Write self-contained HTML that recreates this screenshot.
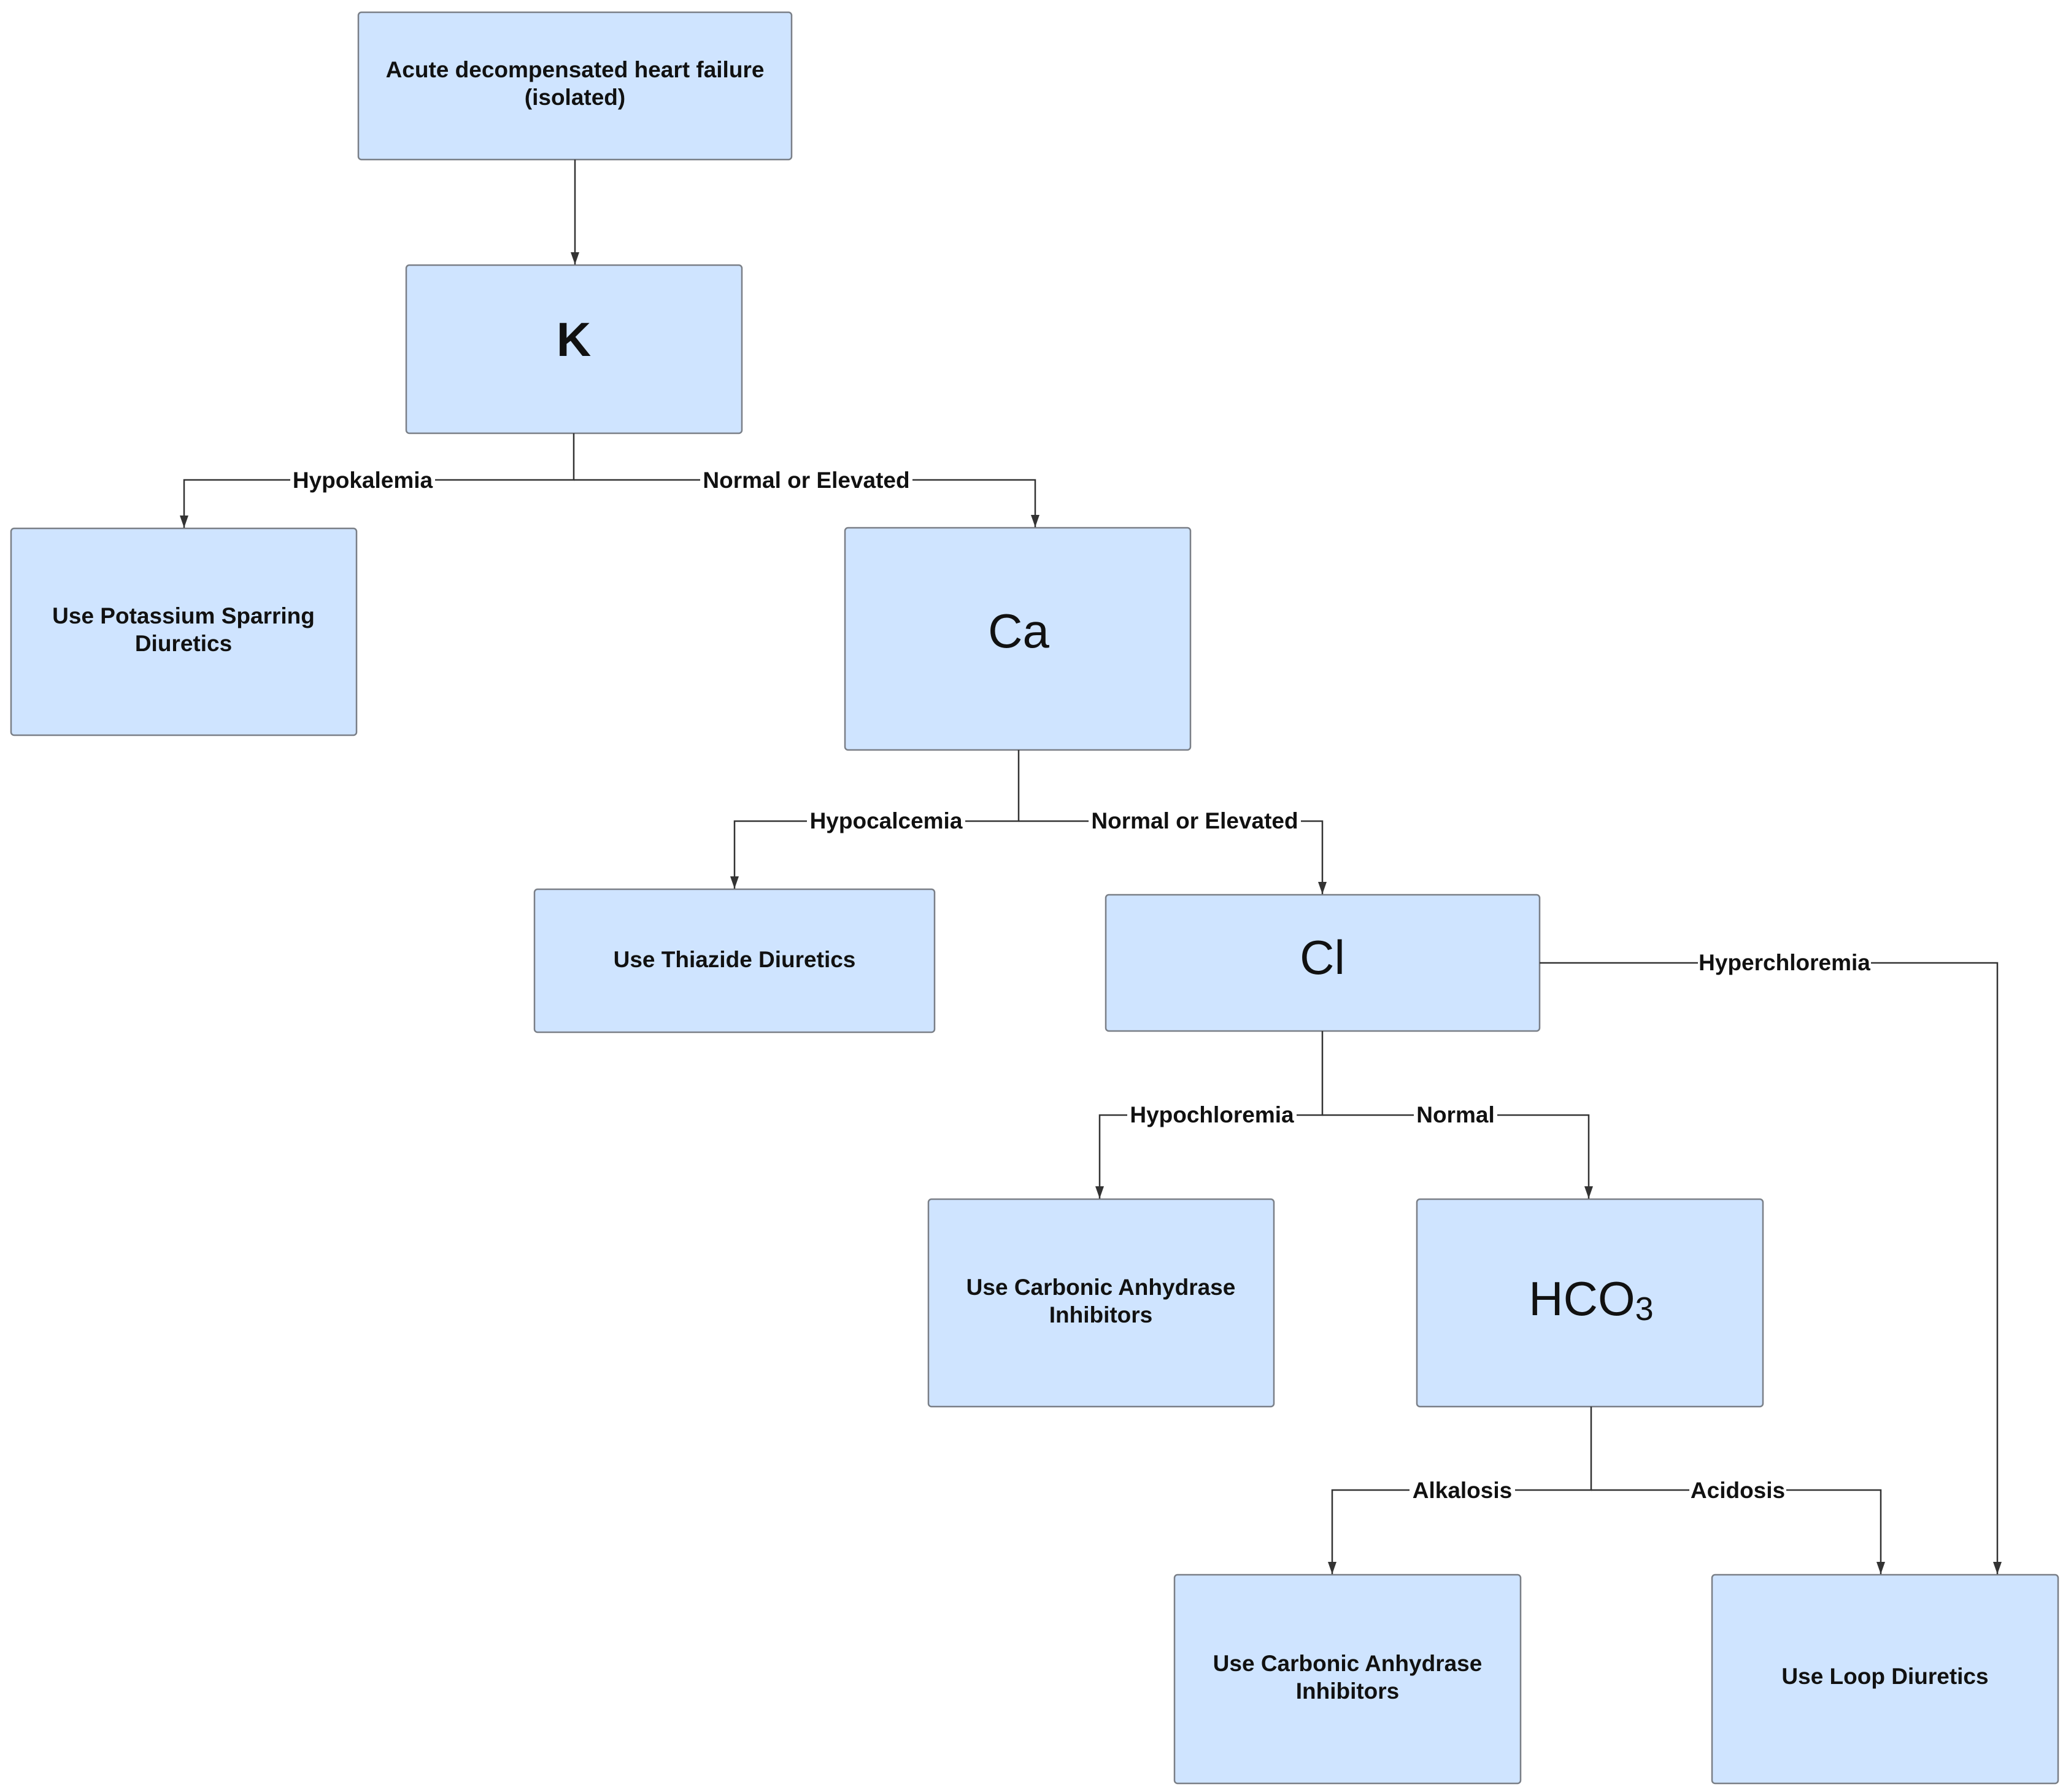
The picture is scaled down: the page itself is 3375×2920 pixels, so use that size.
<!DOCTYPE html>
<html><head><meta charset="utf-8"><style>
html,body{margin:0;padding:0;background:#fff;}
svg{display:block;}
text{font-family:"Liberation Sans",Arial,sans-serif;}
.b{fill:#cfe4ff;stroke:#7a7f87;stroke-width:2.5;}
.t{font-weight:bold;font-size:37px;fill:#111;}
.big{font-size:78px;fill:#111;}
.l{fill:none;stroke:#333;stroke-width:2.5;}
.lab{font-weight:bold;font-size:37px;fill:#111;}
</style></head><body>
<svg width="3375" height="2920" viewBox="0 0 3375 2920" xmlns="http://www.w3.org/2000/svg">
<defs>
<marker id="d" markerWidth="14" markerHeight="20" refX="7" refY="20" markerUnits="userSpaceOnUse"><path d="M0,0 L14,0 L7,20 z" fill="#333"/></marker></defs>
<g transform="translate(-3,-2)">
<!-- boxes -->
<rect class="b" x="587" y="22" width="706" height="240" rx="5"/>
<text class="t" x="940" y="128" text-anchor="middle">Acute decompensated heart failure</text>
<text class="t" x="940" y="173" text-anchor="middle">(isolated)</text>

<rect class="b" x="665" y="434" width="547" height="274" rx="5"/>
<text class="t" x="938" y="582" text-anchor="middle" style="font-size:78px">K</text>

<rect class="b" x="21" y="863" width="563" height="337" rx="5"/>
<text class="t" x="302" y="1018" text-anchor="middle">Use Potassium Sparring</text>
<text class="t" x="302" y="1063" text-anchor="middle">Diuretics</text>

<rect class="b" x="1380" y="862" width="563" height="362" rx="5"/>
<text class="big" x="1663" y="1057" text-anchor="middle">Ca</text>

<rect class="b" x="874" y="1451" width="652" height="233" rx="5"/>
<text class="t" x="1200" y="1578" text-anchor="middle">Use Thiazide Diuretics</text>

<rect class="b" x="1805" y="1460" width="707" height="222" rx="5"/>
<text class="big" x="2158" y="1589" text-anchor="middle">Cl</text>

<rect class="b" x="1516" y="1956" width="563" height="338" rx="5"/>
<text class="t" x="1797" y="2112" text-anchor="middle">Use Carbonic Anhydrase</text>
<text class="t" x="1797" y="2157" text-anchor="middle">Inhibitors</text>

<rect class="b" x="2312" y="1956" width="564" height="338" rx="5"/>
<text class="big" x="2596" y="2145" text-anchor="middle">HCO<tspan font-size="54" dy="8">3</tspan></text>

<rect class="b" x="1917" y="2568" width="564" height="340" rx="5"/>
<text class="t" x="2199" y="2725" text-anchor="middle">Use Carbonic Anhydrase</text>
<text class="t" x="2199" y="2770" text-anchor="middle">Inhibitors</text>

<rect class="b" x="2793" y="2568" width="564" height="340" rx="5"/>
<text class="t" x="3075" y="2746" text-anchor="middle">Use Loop Diuretics</text>

<!-- connectors -->
<path class="l" d="M940,262 V433" marker-end="url(#d)"/>
<path class="l" d="M938,708 V784 H303 V862" marker-end="url(#d)"/>
<path class="l" d="M938,784 H1690 V861" marker-end="url(#d)"/>
<path class="l" d="M1663,1224 V1340 H1200 V1450" marker-end="url(#d)"/>
<path class="l" d="M1663,1340 H2158 V1459" marker-end="url(#d)"/>
<path class="l" d="M2158,1682 V1819 H1795 V1955" marker-end="url(#d)"/>
<path class="l" d="M2158,1819 H2592 V1955" marker-end="url(#d)"/>
<path class="l" d="M2512,1571 H3258 V2567" marker-end="url(#d)"/>
<path class="l" d="M2596,2294 V2430 H2174 V2567" marker-end="url(#d)"/>
<path class="l" d="M2596,2430 H3068 V2567" marker-end="url(#d)"/>

<!-- labels -->
<g class="lab" text-anchor="middle">
<rect x="476" y="762" width="236" height="44" fill="#fff"/><text x="594" y="797">Hypokalemia</text>
<rect x="1144" y="762" width="346" height="44" fill="#fff"/><text x="1317" y="797">Normal or Elevated</text>
<rect x="1318" y="1317" width="258" height="44" fill="#fff"/><text x="1447" y="1352">Hypocalcemia</text>
<rect x="1777" y="1317" width="346" height="44" fill="#fff"/><text x="1950" y="1352">Normal or Elevated</text>
<rect x="1840" y="1796" width="276" height="44" fill="#fff"/><text x="1978" y="1831">Hypochloremia</text>
<rect x="2307" y="1796" width="136" height="44" fill="#fff"/><text x="2375" y="1831">Normal</text>
<rect x="2770" y="1548" width="282" height="44" fill="#fff"/><text x="2911" y="1583">Hyperchloremia</text>
<rect x="2300" y="2408" width="172" height="44" fill="#fff"/><text x="2386" y="2443">Alkalosis</text>
<rect x="2756" y="2408" width="158" height="44" fill="#fff"/><text x="2835" y="2443">Acidosis</text>
</g>
</g>
</svg>
</body></html>
